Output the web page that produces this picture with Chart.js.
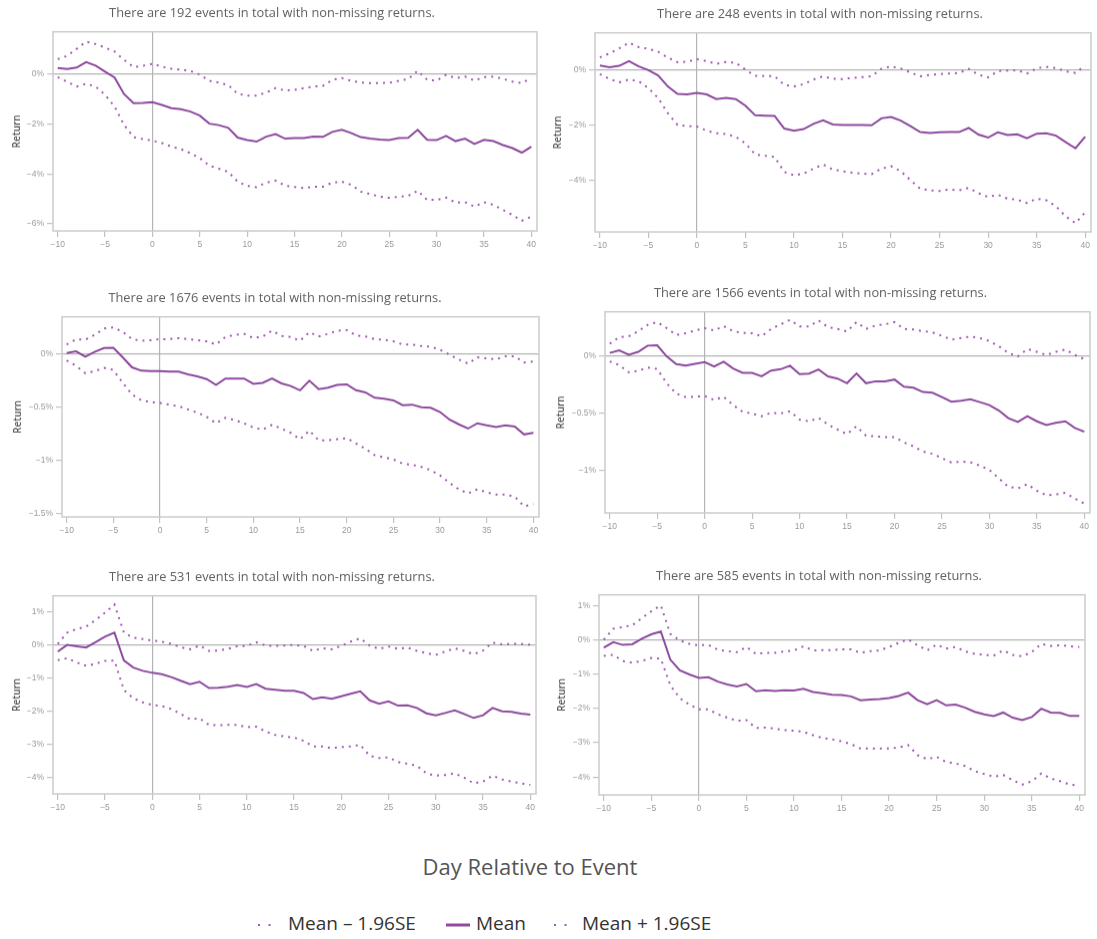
<!DOCTYPE html>
<html>
<head>
<meta charset="utf-8">
<title>Event study returns</title>
<script src="https://cdn.jsdelivr.net/npm/chart.js@4.4.0/dist/chart.umd.min.js"></script>
<style>
  html, body { margin: 0; padding: 0; background: #fff; width: 1097px; height: 939px; overflow: hidden; }
  canvas.panel { position: absolute; }
  #xtitle { position: absolute; left: 330px; width: 400px; top: 851px; text-align: center;
            font: 22px 'Open Sans', sans-serif; color: #555; white-space: nowrap; }
  .lg { position: absolute; top: 910px; height: 28px; line-height: 28px;
        font: 19px 'Open Sans', sans-serif; color: #333; white-space: nowrap; }
  .sw { position: absolute; top: 912px; }
</style>
</head>
<body>
<canvas class="panel" id="c1"></canvas>
<canvas class="panel" id="c2"></canvas>
<canvas class="panel" id="c3"></canvas>
<canvas class="panel" id="c4"></canvas>
<canvas class="panel" id="c5"></canvas>
<canvas class="panel" id="c6"></canvas>

<div id="xtitle">Day Relative to Event</div>
<svg class="sw" style="left:255px" width="18" height="24"><line x1="3" y1="13" x2="16" y2="13" stroke="#a25db3" stroke-width="2.2" stroke-dasharray="2 8.5"/></svg>
<div class="lg" style="left:288px">Mean – 1.96SE</div>
<svg class="sw" style="left:445px" width="26" height="24"><line x1="1" y1="13" x2="25" y2="13" stroke="#8f4b9f" stroke-width="3"/></svg>
<div class="lg" style="left:476px">Mean</div>
<svg class="sw" style="left:551px" width="18" height="24"><line x1="3" y1="13" x2="16" y2="13" stroke="#a25db3" stroke-width="2.2" stroke-dasharray="2 8.5"/></svg>
<div class="lg" style="left:582px">Mean + 1.96SE</div>

<script>
// Event days on the x axis
const days = [-10, -9, -8, -7, -6, -5, -4, -3, -2, -1,
              0, 1, 2, 3, 4, 5, 6, 7, 8, 9,
              10, 11, 12, 13, 14, 15, 16, 17, 18, 19,
              20, 21, 22, 23, 24, 25, 26, 27, 28, 29,
              30, 31, 32, 33, 34, 35, 36, 37, 38, 39, 40];

// Number of events behind each panel
const eventCounts = [192, 248, 1676, 1566, 531, 585];

// Cumulative returns (%) per panel: mean and 95% band
const p1Mean = [0.23, 0.19, 0.25, 0.47, 0.33, 0.09, -0.15, -0.81, -1.17, -1.16,
  -1.13, -1.24, -1.37, -1.41, -1.51, -1.67, -1.99, -2.05, -2.16, -2.55,
  -2.65, -2.71, -2.51, -2.41, -2.59, -2.57, -2.57, -2.51, -2.52, -2.32,
  -2.24, -2.37, -2.53, -2.59, -2.63, -2.65, -2.57, -2.56, -2.24, -2.64,
  -2.65, -2.48, -2.69, -2.59, -2.80, -2.64, -2.69, -2.85, -2.97, -3.15, -2.91];
const p1Upper = [0.59, 0.72, 1.00, 1.29, 1.19, 1.05, 0.89, 0.56, 0.27, 0.32,
  0.40, 0.29, 0.20, 0.17, 0.12, -0.03, -0.28, -0.35, -0.45, -0.80,
  -0.87, -0.87, -0.75, -0.57, -0.67, -0.64, -0.57, -0.51, -0.48, -0.24,
  -0.17, -0.28, -0.35, -0.37, -0.37, -0.36, -0.28, -0.21, 0.12, -0.24,
  -0.27, -0.04, -0.17, -0.11, -0.27, -0.13, -0.11, -0.20, -0.31, -0.37, -0.17];
const p1Lower = [-0.13, -0.32, -0.51, -0.40, -0.51, -0.84, -1.31, -2.04, -2.53, -2.61,
  -2.67, -2.77, -2.91, -3.01, -3.17, -3.37, -3.67, -3.79, -3.92, -4.31,
  -4.48, -4.53, -4.35, -4.27, -4.47, -4.52, -4.57, -4.51, -4.51, -4.35,
  -4.31, -4.44, -4.71, -4.81, -4.91, -4.96, -4.91, -4.88, -4.67, -5.04,
  -5.04, -4.95, -5.15, -5.13, -5.31, -5.13, -5.24, -5.44, -5.64, -5.87, -5.71];

const p2Mean = [0.16, 0.10, 0.15, 0.32, 0.13, -0.01, -0.20, -0.60, -0.87, -0.89,
  -0.83, -0.89, -1.06, -1.02, -1.06, -1.30, -1.65, -1.66, -1.67, -2.13,
  -2.21, -2.15, -1.96, -1.83, -1.98, -2.00, -2.00, -2.00, -2.01, -1.76,
  -1.71, -1.84, -2.04, -2.26, -2.29, -2.27, -2.26, -2.26, -2.11, -2.35,
  -2.46, -2.27, -2.37, -2.34, -2.48, -2.32, -2.30, -2.39, -2.63, -2.85, -2.43];
const p2Upper = [0.46, 0.60, 0.79, 0.99, 0.83, 0.77, 0.66, 0.45, 0.28, 0.30,
  0.39, 0.32, 0.22, 0.29, 0.26, 0.01, -0.21, -0.22, -0.23, -0.54,
  -0.60, -0.52, -0.35, -0.23, -0.32, -0.33, -0.29, -0.26, -0.23, 0.04,
  0.13, 0.05, -0.09, -0.23, -0.18, -0.15, -0.13, -0.11, 0.04, -0.17,
  -0.27, -0.04, -0.02, -0.01, -0.13, 0.06, 0.11, 0.07, -0.05, -0.11, 0.16];
const p2Lower = [-0.15, -0.33, -0.45, -0.35, -0.41, -0.66, -1.02, -1.57, -2.00, -2.04,
  -2.06, -2.21, -2.30, -2.33, -2.43, -2.67, -3.07, -3.12, -3.16, -3.71,
  -3.83, -3.77, -3.59, -3.44, -3.62, -3.68, -3.74, -3.77, -3.79, -3.59,
  -3.50, -3.68, -4.01, -4.32, -4.38, -4.40, -4.35, -4.38, -4.29, -4.48,
  -4.62, -4.54, -4.68, -4.72, -4.84, -4.68, -4.74, -4.96, -5.33, -5.57, -5.18];

const p3Mean = [0.01, 0.025, -0.025, 0.02, 0.056, 0.06, -0.03, -0.125, -0.156, -0.16,
  -0.16, -0.165, -0.165, -0.19, -0.21, -0.235, -0.29, -0.23, -0.23, -0.23,
  -0.28, -0.27, -0.23, -0.275, -0.30, -0.34, -0.25, -0.33, -0.315, -0.29,
  -0.285, -0.34, -0.36, -0.41, -0.42, -0.435, -0.48, -0.475, -0.50, -0.505,
  -0.545, -0.615, -0.66, -0.70, -0.65, -0.67, -0.685, -0.67, -0.68, -0.755, -0.74];
const p3Upper = [0.09, 0.14, 0.135, 0.18, 0.24, 0.25, 0.21, 0.14, 0.125, 0.13,
  0.14, 0.14, 0.15, 0.14, 0.13, 0.12, 0.09, 0.16, 0.18, 0.19,
  0.15, 0.165, 0.22, 0.17, 0.16, 0.125, 0.205, 0.165, 0.19, 0.22,
  0.225, 0.175, 0.165, 0.14, 0.135, 0.12, 0.09, 0.09, 0.075, 0.07,
  0.04, -0.005, -0.05, -0.09, -0.03, -0.04, -0.05, -0.02, -0.02, -0.08, -0.07];
const p3Lower = [-0.06, -0.11, -0.18, -0.16, -0.13, -0.15, -0.27, -0.38, -0.435, -0.45,
  -0.46, -0.475, -0.49, -0.52, -0.55, -0.59, -0.65, -0.60, -0.62, -0.65,
  -0.69, -0.71, -0.665, -0.70, -0.74, -0.80, -0.72, -0.81, -0.81, -0.80,
  -0.79, -0.84, -0.89, -0.95, -0.97, -0.99, -1.03, -1.04, -1.06, -1.09,
  -1.14, -1.21, -1.27, -1.31, -1.27, -1.30, -1.32, -1.32, -1.34, -1.43, -1.41];

const p4Mean = [0.03, 0.053, 0.015, 0.04, 0.094, 0.097, 0.0, -0.068, -0.08, -0.065,
  -0.05, -0.088, -0.047, -0.106, -0.144, -0.144, -0.174, -0.124, -0.112, -0.082,
  -0.156, -0.15, -0.115, -0.176, -0.194, -0.235, -0.15, -0.235, -0.218, -0.218,
  -0.203, -0.265, -0.274, -0.312, -0.318, -0.356, -0.397, -0.388, -0.376, -0.40,
  -0.426, -0.474, -0.541, -0.574, -0.524, -0.568, -0.60, -0.582, -0.568, -0.626, -0.659];
const p4Upper = [0.11, 0.168, 0.176, 0.22, 0.276, 0.30, 0.247, 0.188, 0.203, 0.226,
  0.247, 0.226, 0.265, 0.22, 0.206, 0.203, 0.176, 0.24, 0.28, 0.32,
  0.262, 0.262, 0.315, 0.256, 0.24, 0.218, 0.30, 0.24, 0.27, 0.28,
  0.30, 0.24, 0.235, 0.22, 0.21, 0.18, 0.147, 0.16, 0.174, 0.16,
  0.135, 0.088, 0.03, 0.0, 0.065, 0.04, 0.012, 0.04, 0.06, 0.012, -0.024];
const p4Lower = [-0.044, -0.076, -0.14, -0.126, -0.097, -0.11, -0.235, -0.326, -0.356, -0.353,
  -0.347, -0.382, -0.353, -0.426, -0.485, -0.50, -0.524, -0.494, -0.50, -0.48,
  -0.553, -0.568, -0.538, -0.597, -0.641, -0.68, -0.612, -0.694, -0.70, -0.706,
  -0.706, -0.753, -0.788, -0.832, -0.853, -0.891, -0.929, -0.921, -0.926, -0.956,
  -0.994, -1.068, -1.141, -1.156, -1.118, -1.176, -1.215, -1.209, -1.194, -1.244, -1.288];

const p5Mean = [-0.20, 0.00, -0.04, -0.08, 0.08, 0.25, 0.37, -0.47, -0.68, -0.78,
  -0.84, -0.88, -0.97, -1.08, -1.18, -1.11, -1.30, -1.29, -1.26, -1.21,
  -1.27, -1.18, -1.32, -1.35, -1.38, -1.38, -1.45, -1.63, -1.58, -1.62,
  -1.55, -1.47, -1.40, -1.67, -1.77, -1.70, -1.83, -1.82, -1.90, -2.06,
  -2.12, -2.05, -1.97, -2.08, -2.20, -2.12, -1.90, -2.00, -2.02, -2.07, -2.10];
const p5Upper = [0.03, 0.37, 0.48, 0.55, 0.75, 0.97, 1.22, 0.37, 0.22, 0.18,
  0.13, 0.10, 0.03, -0.07, -0.13, -0.02, -0.18, -0.17, -0.12, -0.04,
  -0.03, 0.08, -0.02, -0.03, -0.02, 0.00, -0.03, -0.18, -0.10, -0.13,
  -0.03, 0.10, 0.20, -0.02, -0.12, -0.05, -0.12, -0.08, -0.18, -0.25,
  -0.30, -0.20, -0.10, -0.18, -0.28, -0.17, 0.07, 0.02, 0.03, 0.03, 0.00];
const p5Lower = [-0.46, -0.40, -0.53, -0.63, -0.57, -0.48, -0.47, -1.36, -1.61, -1.73,
  -1.81, -1.84, -1.93, -2.08, -2.24, -2.21, -2.41, -2.42, -2.41, -2.41,
  -2.48, -2.46, -2.61, -2.71, -2.76, -2.79, -2.89, -3.06, -3.06, -3.11,
  -3.08, -3.06, -3.01, -3.34, -3.41, -3.39, -3.53, -3.58, -3.64, -3.87,
  -3.94, -3.92, -3.87, -4.00, -4.17, -4.12, -3.94, -4.05, -4.12, -4.17, -4.22];

const p6Mean = [-0.23, -0.07, -0.15, -0.13, 0.03, 0.16, 0.24, -0.58, -0.89, -1.01,
  -1.11, -1.09, -1.22, -1.30, -1.36, -1.29, -1.50, -1.47, -1.49, -1.47,
  -1.48, -1.43, -1.52, -1.56, -1.60, -1.61, -1.65, -1.76, -1.74, -1.73,
  -1.70, -1.64, -1.54, -1.76, -1.88, -1.76, -1.91, -1.89, -1.98, -2.10,
  -2.17, -2.22, -2.12, -2.27, -2.34, -2.25, -2.01, -2.12, -2.13, -2.22, -2.22];
const p6Upper = [0.00, 0.32, 0.37, 0.42, 0.63, 0.83, 1.00, 0.17, -0.02, -0.12,
  -0.16, -0.15, -0.29, -0.33, -0.36, -0.21, -0.41, -0.38, -0.38, -0.34,
  -0.31, -0.19, -0.31, -0.30, -0.30, -0.28, -0.28, -0.38, -0.33, -0.31,
  -0.21, -0.09, 0.01, -0.16, -0.31, -0.14, -0.26, -0.21, -0.34, -0.41,
  -0.44, -0.46, -0.31, -0.44, -0.48, -0.36, -0.12, -0.18, -0.16, -0.19, -0.21];
const p6Lower = [-0.47, -0.44, -0.62, -0.67, -0.62, -0.53, -0.55, -1.33, -1.70, -1.89,
  -2.03, -2.03, -2.17, -2.27, -2.36, -2.34, -2.57, -2.56, -2.59, -2.63,
  -2.65, -2.68, -2.78, -2.86, -2.90, -2.96, -3.04, -3.17, -3.17, -3.17,
  -3.17, -3.14, -3.07, -3.36, -3.48, -3.41, -3.56, -3.60, -3.68, -3.83,
  -3.91, -3.99, -3.94, -4.09, -4.22, -4.12, -3.90, -4.04, -4.12, -4.22, -4.25];

const seriesByPanel = [
  [p1Lower, p1Mean, p1Upper],
  [p2Lower, p2Mean, p2Upper],
  [p3Lower, p3Mean, p3Upper],
  [p4Lower, p4Mean, p4Upper],
  [p5Lower, p5Mean, p5Upper],
  [p6Lower, p6Mean, p6Upper]
];

// Page placement of each panel: canvas left (cx), plot box (L, R, T, B),
// left inset (pl), y-title inset (yt), y range and tick step
const layouts = [
  { cx: 0,   pl: 7,  L: 53,  R: 537,  T: 32,  B: 231, yt: 4, yMin: -6.28, yMax: 1.68, step: 2 },
  { cx: 548, pl: 1,  L: 595, R: 1091, T: 33,  B: 232, yt: 3, yMin: -5.89, yMax: 1.35, step: 2 },
  { cx: 0,   pl: 11, L: 62,  R: 539,  T: 317, B: 517, yt: 1, yMin: -1.53, yMax: 0.35, step: 0.5 },
  { cx: 548, pl: 3,  L: 605, R: 1090, T: 312, B: 513, yt: 4, yMin: -1.37, yMax: 0.39, step: 0.5 },
  { cx: 0,   pl: 8,  L: 53,  R: 536,  T: 596, B: 794, yt: 3, yMin: -4.49, yMax: 1.48, step: 1 },
  { cx: 548, pl: 5,  L: 599, R: 1085, T: 595, B: 795, yt: 3, yMin: -4.52, yMax: 1.31, step: 1 }
];

const MEAN_COLOR = '#8f4b9f';
const BAND_COLOR = '#a25db3';
const TITLE_SIZE = 12.8;
const TITLE_GAP = 18 - TITLE_SIZE * 0.6;          // space between title line and plot
const TITLE_BLOCK = TITLE_SIZE * 1.2 + TITLE_GAP;  // full height reserved above the plot
const XAXIS_H = 30;
const PAD_R = 10;

// Outline of the plotting area
const framePlugin = {
  id: 'frame',
  afterDraw(chart) {
    const { ctx, chartArea: a } = chart;
    ctx.save();
    ctx.strokeStyle = '#cbcbcb';
    ctx.lineWidth = 1.5;
    ctx.strokeRect(a.left, a.top, a.right - a.left, a.bottom - a.top);
    ctx.restore();
  }
};

function minusSign(v) {
  const r = Math.round(v * 100) / 100;
  return r < 0 ? '\u2212' + Math.abs(r) : String(r);
}

const zeroOnly = ctx => (ctx.tick && Math.abs(ctx.tick.value) < 1e-9) ? '#b4b4b4' : 'rgba(0,0,0,0)';

layouts.forEach((lay, i) => {
  const canvas = document.getElementById('c' + (i + 1));
  const top = lay.T - TITLE_BLOCK;
  const width = lay.R - lay.cx + PAD_R;
  const height = lay.B - top + XAXIS_H;
  canvas.style.left = lay.cx + 'px';
  canvas.style.top = top + 'px';
  canvas.width = width;
  canvas.height = height;
  canvas.style.width = width + 'px';
  canvas.style.height = height + 'px';

  const [lower, mean, upper] = seriesByPanel[i];
  const toXY = arr => arr.map((v, k) => ({ x: days[k], y: v }));

  new Chart(canvas, {
    type: 'line',
    data: {
      datasets: [
        { label: 'Mean - 1.96SE', data: toXY(lower), borderColor: BAND_COLOR, borderWidth: 2,
          borderDash: [2, 5], borderCapStyle: 'butt', pointRadius: 0, fill: false, tension: 0 },
        { label: 'Mean', data: toXY(mean), borderColor: MEAN_COLOR, borderWidth: 2,
          pointRadius: 0, fill: false, tension: 0 },
        { label: 'Mean + 1.96SE', data: toXY(upper), borderColor: BAND_COLOR, borderWidth: 2,
          borderDash: [2, 5], borderCapStyle: 'butt', pointRadius: 0, fill: false, tension: 0 }
      ]
    },
    options: {
      responsive: false,
      animation: false,
      devicePixelRatio: 1,
      layout: { padding: { left: lay.pl, right: PAD_R, top: 0, bottom: 0 } },
      plugins: {
        legend: { display: false },
        tooltip: { enabled: false },
        title: {
          display: true,
          text: 'There are ' + eventCounts[i] + ' events in total with non-missing returns.',
          font: { family: 'Open Sans', size: TITLE_SIZE, weight: 'normal' },
          color: '#5e5e5e',
          padding: { top: 0, bottom: TITLE_GAP }
        }
      },
      scales: {
        x: {
          type: 'linear',
          min: -10.5,
          max: 40.6,
          border: { display: false },
          grid: { color: zeroOnly, tickColor: '#c2c2c2', tickLength: 6, lineWidth: 1.2 },
          ticks: {
            stepSize: 5, includeBounds: false, autoSkip: false, maxRotation: 0,
            padding: 3, color: '#9a9a9a',
            font: { family: 'Liberation Sans', size: 8.5 },
            callback: v => minusSign(v)
          },
          afterFit: s => { s.height = XAXIS_H; }
        },
        y: {
          type: 'linear',
          min: lay.yMin,
          max: lay.yMax,
          border: { display: false },
          grid: { color: zeroOnly, tickColor: '#c2c2c2', tickLength: 6, lineWidth: 1.2 },
          ticks: {
            stepSize: lay.step, includeBounds: false, autoSkip: false,
            padding: 3, color: '#9a9a9a',
            font: { family: 'Liberation Sans', size: 8.5 },
            callback: v => minusSign(v) + '%'
          },
          title: {
            display: true, text: 'Return', color: '#555',
            font: { family: 'Open Sans', size: 10, weight: '600' },
            padding: { top: lay.yt, bottom: 0 }
          },
          afterFit: s => { s.width = lay.L - lay.cx - lay.pl; }
        }
      }
    },
    plugins: [framePlugin]
  });
});
</script>
</body>
</html>
